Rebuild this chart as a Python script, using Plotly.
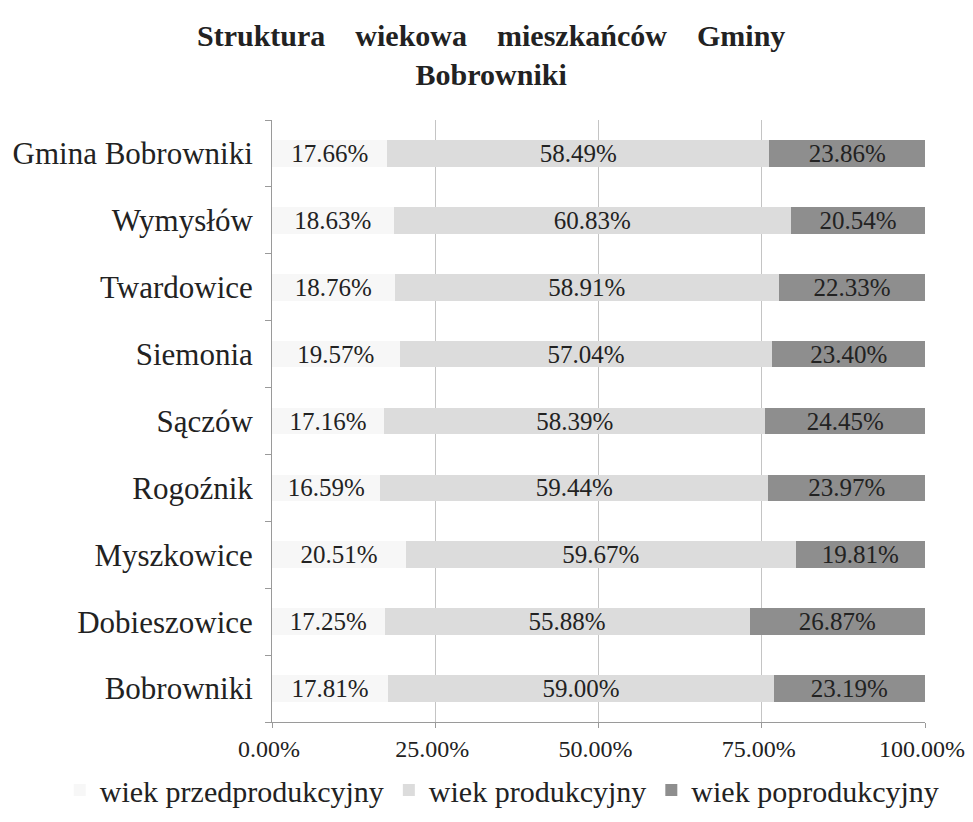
import plotly.graph_objects as go

categories = ["Bobrowniki", "Dobieszowice", "Myszkowice", "Rogoźnik", "Sączów",
              "Siemonia", "Twardowice", "Wymysłów", "Gmina Bobrowniki"]
przed = [17.81, 17.25, 20.51, 16.59, 17.16, 19.57, 18.76, 18.63, 17.66]
prod = [59.00, 55.88, 59.67, 59.44, 58.39, 57.04, 58.91, 60.83, 58.49]
poprod = [23.19, 26.87, 19.81, 23.97, 24.45, 23.40, 22.33, 20.54, 23.86]
series_names = ["wiek przedprodukcyjny", "wiek produkcyjny", "wiek poprodukcyjny"]
tick_vals = [0, 25, 50, 75, 100]
tick_text = ["0.00%", "25.00%", "50.00%", "75.00%", "100.00%"]
title_line1 = ["Struktura", "wiekowa", "mieszkańców", "Gminy"]
title_line2 = "Bobrowniki"

FONT = "Liberation Serif"
colors = ["#f7f7f7", "#dcdcdc", "#8e8e8e"]

gap = "\u00a0" * 4
title_text = "<b>" + gap.join(title_line1) + "<br>" + title_line2 + "</b>"

fig = go.Figure()
for name, vals, col in zip(series_names, [przed, prod, poprod], colors):
    fig.add_trace(go.Bar(
        y=categories, x=vals, name=name, orientation="h",
        marker=dict(color=col, line=dict(width=0)),
        text=vals, texttemplate="%{x:.2f}%", textposition="inside",
        insidetextanchor="middle", constraintext="none",
        textfont=dict(family=FONT, size=25, color="#222222"),
    ))

fig.add_annotation(text=title_text, xref="paper", yref="paper", x=0.336, y=1.171,
                   xanchor="center", yanchor="top", showarrow=False,
                   font=dict(family=FONT, size=30, color="#222222"))

fig.update_layout(
    barmode="stack",
    bargap=0.6,
    width=957, height=806,
    paper_bgcolor="white", plot_bgcolor="white",
    margin=dict(l=264, r=40, t=112, b=92, autoexpand=False),
    font=dict(family=FONT, color="#222222"),
    xaxis=dict(range=[0, 100], tickvals=tick_vals, ticktext=tick_text,
               showgrid=True, gridcolor="#c4c4c4", gridwidth=1,
               showline=True, linecolor="#9a9a9a", ticks="outside", ticklen=5,
               tickcolor="#9a9a9a", tickfont=dict(family=FONT, size=24, color="#222222"),
               ticklabeloverflow="allow", ticklabelshift=-3,
               zeroline=False, automargin=False),
    yaxis=dict(showline=True, linecolor="#9a9a9a", ticks="outside", tickson="boundaries",
               ticklen=6, tickcolor="#9a9a9a",
               tickfont=dict(family=FONT, size=31, color="#222222"),
               ticklabelstandoff=12, automargin=False),
    legend=dict(orientation="h", x=-0.325, xanchor="left",
                y=-0.113, yanchor="middle",
                font=dict(family=FONT, size=30, color="#222222"), traceorder="normal",
                itemwidth=30, tracegroupgap=0),
    showlegend=True,
)

fig.write_html("out.html")
